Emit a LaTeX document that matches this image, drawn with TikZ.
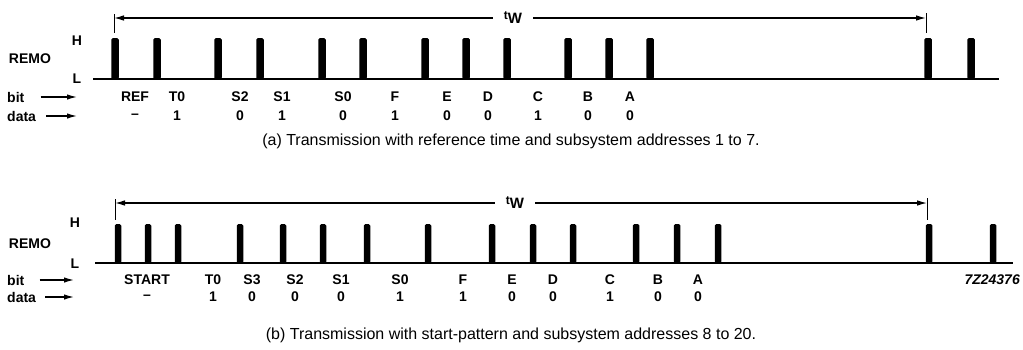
\documentclass[tikz,border=0pt]{standalone}
\usepackage{fontspec}
\setmainfont{Liberation Sans}
\usetikzlibrary{arrows.meta, positioning}

\begin{document}
\begin{tikzpicture}[x=1pt, y=-1pt,
  lbl/.style={font=\fontsize{14}{16}\selectfont\bfseries, inner sep=0pt},
  capt/.style={font=\fontsize{16}{19}\selectfont, inner sep=0pt},
  pulse/.style={fill=black, rounded corners=1.5pt},
  base/.style={line width=2.5pt},
  tick/.style={line width=1pt},
  dim/.style={-{Latex[length=10pt,width=5.5pt]}, line width=1.1pt},
  ptr/.style={-{Latex[length=10pt,width=5.5pt]}, line width=1.3pt}]
\useasboundingbox (0,0) rectangle (1023,349);

% (a) reference time
\node[lbl, inner xsep=11pt] (twA) at (513,18) {{\fontsize{12}{12}\selectfont t}\raisebox{-4pt}{\fontsize{15}{15}\selectfont W}};
\coordinate (twAl) at (114,18);
\coordinate (twAr) at (926,18);
\draw[dim] (twA.west) -- (twAl);
\draw[dim] (twA.east) -- (twAr);
\draw[tick] (114,14) -- (114,33);
\draw[tick] (926,13) -- (926,33);
\node[lbl] (hA) at (77,41) {H};
\node[lbl] (lA) at (77,79) {L};
\node[lbl] (remoA) at (30,59) {REMO};
\node[lbl, anchor=west] (bitA) at (7,97) {bit};
\node[lbl, anchor=west] (datA) at (7,116) {data};
\coordinate (bitAt) at (77,97);
\coordinate (datAt) at (77,116);
\draw[ptr] ([xshift=16pt]bitA.east) -- (bitAt);
\draw[ptr] ([xshift=10pt]datA.east) -- (datAt);
\draw[base] (93,79) -- (999,79);
\foreach \x in {115,157,218,260,322,363,425,466,507,568,609,650,928,971}
  \fill[pulse] (\x-3.75,38) rectangle (\x+3.75,79);
\foreach \x/\b/\d [count=\i] in {135/REF/--, 177/T0/1, 240/S2/0, 282/S1/1,
    343/S0/0, 395/F/1, 447/E/0, 488/D/0, 538/C/1, 588/B/0, 630/A/0} {
  \node[lbl] (bA\i) at (\x,97) {\b};
  \node[lbl] (dA\i) at (\x,116) {\d};
}
\node[capt] (capA) at (511,141) {(a) Transmission with reference time and subsystem addresses 1 to 7.};

% (b) start-pattern
\node[lbl, inner xsep=11pt] (twB) at (515,203) {{\fontsize{12}{12}\selectfont t}\raisebox{-4pt}{\fontsize{15}{15}\selectfont W}};
\coordinate (twBl) at (115,203);
\coordinate (twBr) at (927,203);
\draw[dim] (twB.west) -- (twBl);
\draw[dim] (twB.east) -- (twBr);
\draw[tick] (115,199) -- (115,220);
\draw[tick] (927,198) -- (927,220);
\node[lbl] (hB) at (75,223) {H};
\node[lbl] (lB) at (75,264) {L};
\node[lbl] (remoB) at (30,244) {REMO};
\node[lbl, anchor=west] (bitB) at (7,280) {bit};
\node[lbl, anchor=west] (datB) at (7,297) {data};
\coordinate (bitBt) at (74,280);
\coordinate (datBt) at (74,297);
\draw[ptr] ([xshift=15pt]bitB.east) -- (bitBt);
\draw[ptr] ([xshift=9pt]datB.east) -- (datBt);
\draw[base] (95,263) -- (1013,263);
\foreach \x in {118,148,178,240,283,323,367,428,492,533,573,636,677,718,929,993}
  \fill[pulse] (\x-3.25,224) rectangle (\x+3.25,263);
\foreach \x/\b/\d [count=\i] in {147/START/--, 213/T0/1, 252/S3/0, 295/S2/0,
    341/S1/0, 400/S0/1, 463/F/1, 512/E/0, 553/D/0, 610/C/1, 658/B/0, 698/A/0} {
  \node[lbl] (bB\i) at (\x,280) {\b};
  \node[lbl] (dB\i) at (\x,297) {\d};
}
\node[lbl, anchor=east, font=\fontsize{14}{16}\selectfont\bfseries\itshape] (code) at (1020,280) {7Z24376};
\node[capt] (capB) at (511,335) {(b) Transmission with start-pattern and subsystem addresses 8 to 20.};
\end{tikzpicture}
\end{document}
